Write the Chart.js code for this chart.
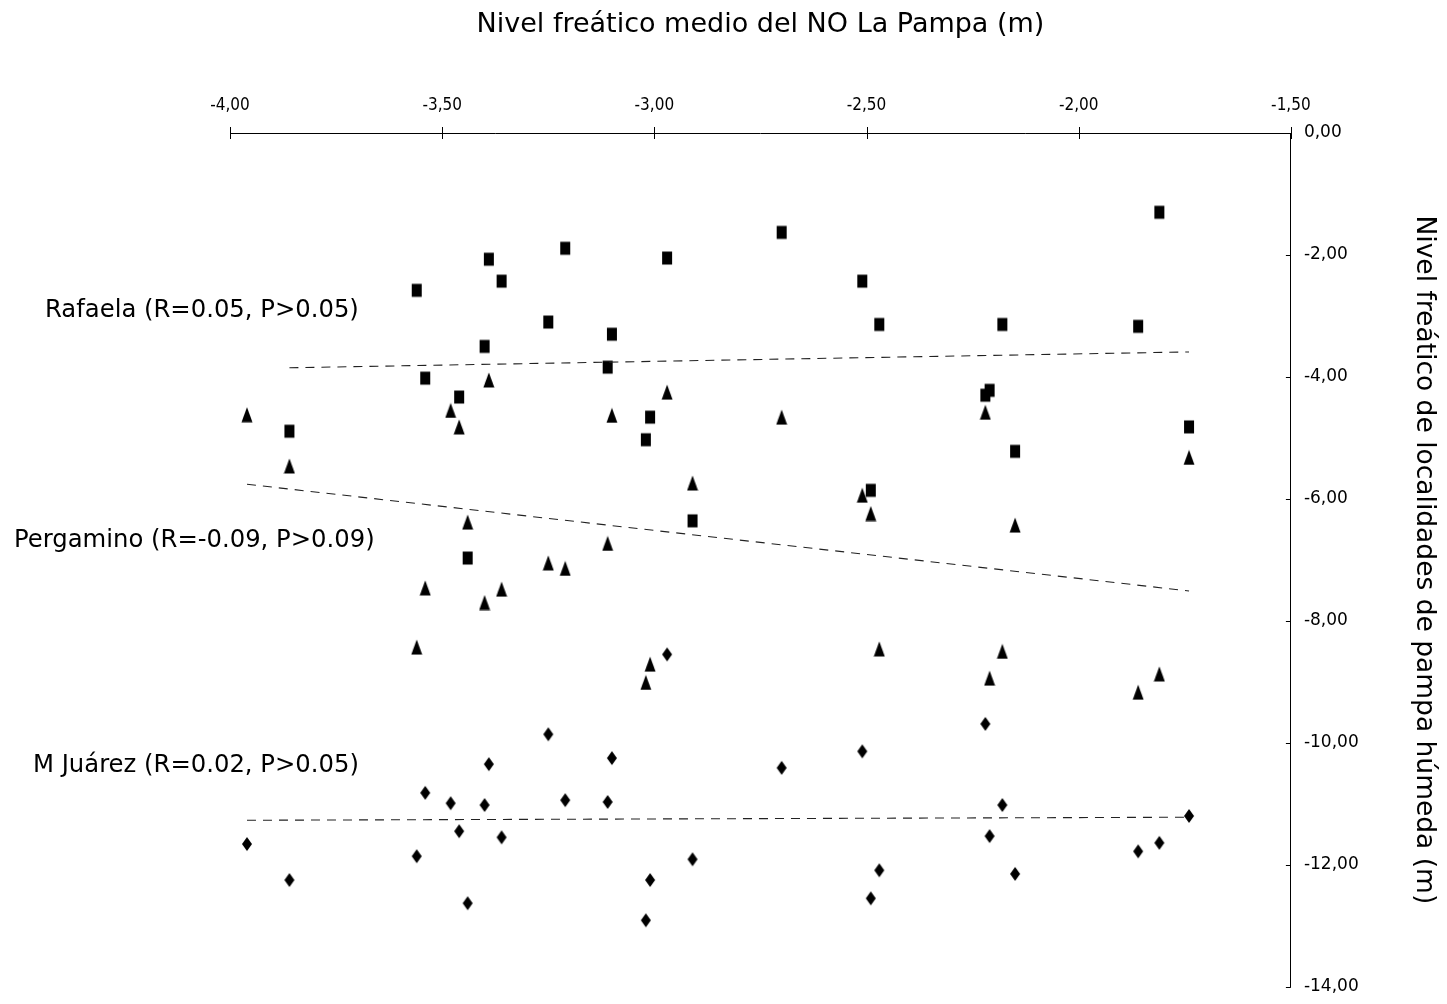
<!DOCTYPE html>
<html>
<head>
<meta charset="utf-8">
<script src="https://cdn.jsdelivr.net/npm/chart.js@4.4.1/dist/chart.umd.min.js"></script>
<style>
  html, body { margin: 0; padding: 0; background: #fff; }
  #wrap { width: 1447px; height: 1004px; }
</style>
</head>
<body>
<div id="wrap"><canvas id="nivelChart" width="1447" height="1004"></canvas></div>
<script>
// Nivel freatico medio del NO de La Pampa (eje x), un valor por año
const nivelNO = [-3.96, -3.86, -3.56, -3.54, -3.48, -3.46, -3.44, -3.40, -3.39, -3.36,
                 -3.25, -3.21, -3.11, -3.10, -3.02, -3.01, -2.97, -2.91, -2.70, -2.51,
                 -2.49, -2.47, -2.22, -2.21, -2.18, -2.15, -1.86, -1.81, -1.74];
// Nivel freatico de cada localidad (null = sin dato)
const rafaela = [null, -4.89, -2.58, -4.02, null, -4.33, -6.97, -3.50, -2.07, -2.43,
                 -3.10, -1.89, -3.84, -3.30, -5.03, -4.66, -2.05, -6.36, -1.63, -2.43,
                 -5.86, -3.14, -4.30, -4.22, -3.14, -5.22, -3.17, -1.30, -4.82];
const pergamino = [-4.62, -5.46, -8.43, -7.46, -4.55, -4.82, -6.38, -7.70, -4.05, -7.48,
                   -7.05, -7.14, -6.73, -4.63, -9.01, -8.71, -4.25, -5.74, -4.66, -5.94,
                   -6.24, -8.46, -4.58, -8.94, -8.50, -6.43, -9.17, -8.87, -5.32];
const mJuarez = [-11.66, -12.25, -11.86, -10.82, -10.99, -11.45, -12.63, -11.02, -10.35, -11.55,
                 -9.86, -10.94, -10.97, -10.25, -12.91, -12.25, -8.55, -11.91, -10.41, -10.14,
                 -12.55, -12.09, -9.69, -11.53, -11.02, -12.15, -11.78, -11.64, -11.20];

// Lineas de tendencia (extremos)
const tendXRafaela = [-3.86, -1.74];
const tendRafaela = [-3.85, -3.59];
const tendXOtros = [-3.96, -1.74];
const tendPergamino = [-5.76, -7.51];
const tendMJuarez = [-11.27, -11.22];

const xTicks = [-4.0, -3.5, -3.0, -2.5, -2.0, -1.5];
const yTicks = [0, -2, -4, -6, -8, -10, -12, -14];

const etiquetas = ['Rafaela (R=0.05, P>0.05)', 'Pergamino (R=-0.09, P>0.09)', 'M Juárez (R=0.02, P>0.05)'];
const etiquetasY = [-2.92, -6.68, -10.37];
const etiquetasX = [45, 14, 33];

const fmt = v => Number(v).toFixed(2).replace('.', ',');

function marca(forma) {
  const c = document.createElement('canvas');
  c.width = 12; c.height = 16;
  const g = c.getContext('2d');
  g.fillStyle = '#000';
  g.beginPath();
  if (forma === 'rect') {
    g.rect(1, 1.5, 10, 13);
  } else if (forma === 'tri') {
    g.moveTo(6, 0.5); g.lineTo(11.5, 15.5); g.lineTo(0.5, 15.5); g.closePath();
  } else {
    g.moveTo(6, 1); g.lineTo(11, 8); g.lineTo(6, 15); g.lineTo(1, 8); g.closePath();
  }
  g.fill();
  return c;
}

const puntos = serie => nivelNO.map((x, i) => ({x: x, y: serie[i]})).filter(p => p.y !== null);
const tramo = (xs, ys) => xs.map((x, i) => ({x: x, y: ys[i]}));

const lineaTend = data => ({
  data: data,
  showLine: true,
  borderColor: '#222',
  borderWidth: 1.1,
  borderDash: [9, 7],
  pointRadius: 0,
  fill: false
});

const extras = {
  id: 'extras',
  afterDraw(chart) {
    const {ctx, scales: {x, y}} = chart;
    ctx.save();
    ctx.strokeStyle = '#000';
    ctx.lineWidth = 1;
    ctx.beginPath();
    x.ticks.forEach(t => {
      const px = Math.round(x.getPixelForValue(t.value)) + 0.5;
      ctx.moveTo(px, x.bottom - 6);
      ctx.lineTo(px, x.bottom + 6);
    });
    y.ticks.forEach(t => {
      const py = Math.round(y.getPixelForValue(t.value)) + 0.5;
      ctx.moveTo(y.left - 5, py);
      ctx.lineTo(y.left, py);
    });
    ctx.stroke();

    ctx.fillStyle = '#000';
    ctx.font = '24.3px "DejaVu Sans", Verdana, sans-serif';
    ctx.textBaseline = 'middle';
    ctx.textAlign = 'left';
    etiquetas.forEach((txt, i) => {
      ctx.fillText(txt, etiquetasX[i], y.getPixelForValue(etiquetasY[i]));
    });
    ctx.restore();
  }
};

Chart.defaults.color = '#000';
Chart.defaults.font.family = '"DejaVu Sans", Verdana, sans-serif';

new Chart(document.getElementById('nivelChart'), {
  type: 'scatter',
  data: {
    datasets: [
      Object.assign(lineaTend(tramo(tendXRafaela, tendRafaela)), {label: 'Tend. Rafaela'}),
      Object.assign(lineaTend(tramo(tendXOtros, tendPergamino)), {label: 'Tend. Pergamino'}),
      Object.assign(lineaTend(tramo(tendXOtros, tendMJuarez)), {label: 'Tend. M Juárez'}),
      {label: 'Rafaela', data: puntos(rafaela), pointStyle: marca('rect'), pointRadius: 6},
      {label: 'Pergamino', data: puntos(pergamino), pointStyle: marca('tri'), pointRadius: 6},
      {label: 'M Juárez', data: puntos(mJuarez), pointStyle: marca('rombo'), pointRadius: 6}
    ]
  },
  options: {
    responsive: false,
    animation: false,
    layout: { padding: { left: 230, top: 0, right: 0, bottom: 17 } },
    plugins: { legend: { display: false }, tooltip: { enabled: false } },
    scales: {
      x: {
        type: 'linear',
        position: 'top',
        min: -4, max: -1.5,
        afterBuildTicks: s => { s.ticks = xTicks.map(v => ({value: v})); },
        ticks: {
          callback: fmt,
          padding: 17,
          font: { size: 17, family: '"DejaVu Sans Condensed", "Liberation Sans Narrow", "DejaVu Sans", sans-serif' }
        },
        grid: { display: false, drawTicks: false },
        border: { display: true, color: '#000', width: 1 },
        title: {
          display: true,
          text: 'Nivel freático medio del NO La Pampa (m)',
          font: { size: 27 },
          padding: { top: 9, bottom: 37.2 }
        }
      },
      y: {
        type: 'linear',
        position: 'right',
        min: -14, max: 0,
        afterBuildTicks: s => { s.ticks = yTicks.map(v => ({value: v})); },
        ticks: {
          callback: fmt,
          padding: 13,
          font: { size: 17, lineHeight: 0.5 }
        },
        grid: { display: false, drawTicks: false },
        border: { display: true, color: '#000', width: 1 },
        title: {
          display: true,
          text: 'Nivel freático de localidades de pampa húmeda (m)',
          font: { size: 26.5 },
          padding: { top: 7, bottom: 36.5 }
        }
      }
    }
  },
  plugins: [extras]
});
</script>
</body>
</html>
